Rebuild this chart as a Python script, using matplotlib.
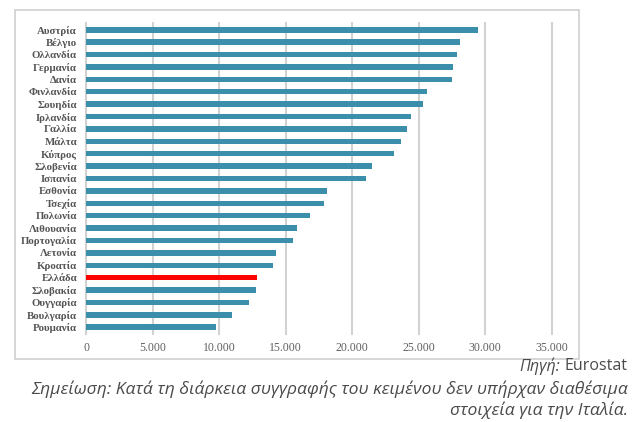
import matplotlib.pyplot as plt
from matplotlib.patches import Rectangle

countries = ['Αυστρία', 'Βέλγιο', 'Ολλανδία', 'Γερμανία', 'Δανία', 'Φινλανδία',
             'Σουηδία', 'Ιρλανδία', 'Γαλλία', 'Μάλτα', 'Κύπρος', 'Σλοβενία',
             'Ισπανία', 'Εσθονία', 'Τσεχία', 'Πολωνία', 'Λιθουανία', 'Πορτογαλία',
             'Λετονία', 'Κροατία', 'Ελλάδα', 'Σλοβακία', 'Ουγγαρία', 'Βουλγαρία',
             'Ρουμανία']
values = [29450, 28100, 27900, 27580, 27480, 25600, 25350, 24420, 24150, 23650,
          23120, 21460, 21030, 18100, 17870, 16870, 15860, 15560, 14300, 14030,
          12850, 12750, 12270, 10940, 9790]
xticks = [0, 5000, 10000, 15000, 20000, 25000, 30000, 35000]
xtick_labels = ['0', '5.000', '10.000', '15.000', '20.000', '25.000', '30.000', '35.000']

W, H = 644, 422
fig = plt.figure(figsize=(W / 100, H / 100), dpi=100)

# outer frame around the chart
fig.patches.append(Rectangle((15 / W, 1 - 359 / H), 564 / W, 349 / H,
                             transform=fig.transFigure, fill=False,
                             edgecolor='#cfcfcf', linewidth=1.2))

ax = fig.add_axes([86 / W, 1 - 334 / H, (551.7 - 86) / W, (334 - 23) / H])

colors = ['#ff0000' if c == 'Ελλάδα' else '#3b8fab' for c in countries]
ax.barh(range(len(countries)), values, height=0.44, color=colors, zorder=3)

ax.set_xlim(0, 35000)
ax.set_ylim(len(countries) - 0.45, -0.55)
ax.set_xticks(xticks)
ax.set_xticklabels(xtick_labels)
ax.set_yticks(range(len(countries)))
ax.set_yticklabels(countries)

for t in xticks:
    ax.axvline(t, color='#d2d2d2', linewidth=1.5, zorder=1, clip_on=False)

for s in ax.spines.values():
    s.set_visible(False)
ax.tick_params(axis='both', length=0)
ax.tick_params(axis='y', pad=6.5, labelcolor='#555555')
ax.tick_params(axis='x', pad=6, labelcolor='#606060')
for lab in ax.get_yticklabels():
    lab.set_fontfamily('Liberation Serif')
    lab.set_fontweight('bold')
    lab.set_fontsize(7.8)
for lab in ax.get_xticklabels():
    lab.set_fontfamily('Liberation Serif')
    lab.set_fontsize(8.5)

note_color = '#4a4a4a'
fig.canvas.draw()
src = fig.text(628 / W, 1 - 366 / H, 'Eurostat', ha='right', va='center',
               fontsize=11.5, color=note_color, family='Open Sans')
bb = src.get_window_extent(fig.canvas.get_renderer())
fig.text((bb.x0 - 5) / W, 1 - 366 / H, 'Πηγή:', ha='right', va='center',
         fontsize=11.5, style='italic', color=note_color, family='Open Sans')
fig.text(628 / W, 1 - 389 / H,
         'Σημείωση: Κατά τη διάρκεια συγγραφής του κειμένου δεν υπήρχαν διαθέσιμα',
         ha='right', va='center', fontsize=12.6, style='italic', color=note_color,
         family='Open Sans')
fig.text(628 / W, 1 - 410 / H, 'στοιχεία για την Ιταλία.',
         ha='right', va='center', fontsize=12.6, style='italic', color=note_color,
         family='Open Sans')

fig.savefig('out.png', dpi=100)
